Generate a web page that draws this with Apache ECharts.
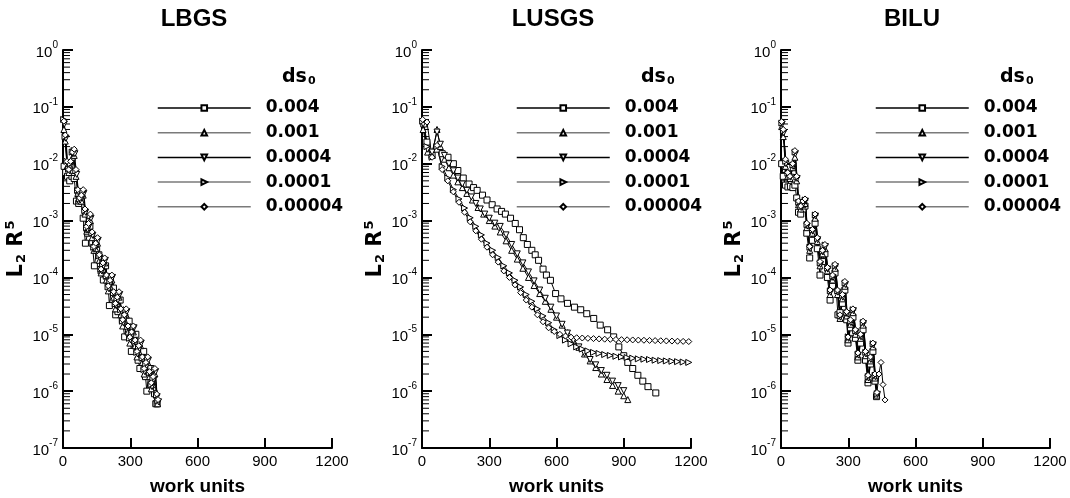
<!DOCTYPE html>
<html>
<head>
    <meta charset="utf-8">
    <title>LBGS / LUSGS / BILU</title>
    <script src="https://cdn.jsdelivr.net/npm/echarts@6/dist/echarts.min.js"></script>
    <style>
        html, body { margin: 0; padding: 0; background: #fff; }
        #chart1 { width: 1070px; height: 498px; }
    </style>
</head>
<body>
<div id="chart1"></div>
<script type="text/javascript">
    // legend names (ds0)
    var dsNames = ['0.004', '0.001', '0.0004', '0.0001', '0.00004'];
    var panelTitles = ['LBGS', 'LUSGS', 'BILU'];

    // ---------- LBGS : [work units, L2 R5] ----------
    var lbgsSquare = [[5, 9e-3], [12, 7e-3], [20, 6e-3], [30, 5e-3], [40, 6e-3], [50, 5.5e-3], [60, 2.2e-3], [70, 2e-3], [80, 2.3e-3], [90, 1.1e-3],
        [100, 4e-4], [110, 6e-4], [120, 8e-4], [130, 4e-4], [140, 1.6e-4], [150, 3e-4], [160, 2.5e-4], [170, 1.3e-4], [180, 9e-5], [190, 1.6e-4],
        [200, 9e-5], [207, 3.2e-5], [215, 6e-5], [225, 6.5e-5], [235, 2.2e-5], [245, 2.5e-5], [255, 4e-5], [265, 1.8e-5], [275, 9e-6], [285, 1.6e-5],
        [295, 1.7e-5], [305, 5e-6], [315, 8e-6], [325, 1e-5], [335, 3.5e-6], [343, 2.5e-6], [350, 4.5e-6], [360, 5e-6], [368, 1.8e-6], [374, 1e-6],
        [384, 2.2e-6], [392, 2.5e-6], [400, 1.3e-6], [408, 9e-7], [414, 6e-7], [420, 6e-7]];
    var lbgsTriUp = [[4, 4e-2], [10, 2.5e-2], [18, 9e-3], [26, 7e-3], [34, 9e-3], [42, 1.3e-2], [50, 1.4e-2], [58, 6e-3], [66, 3e-3], [74, 2.2e-3],
        [82, 2.2e-3], [90, 2.8e-3], [98, 1.3e-3], [106, 6.5e-4], [114, 7e-4], [122, 1e-3], [130, 5e-4], [138, 3e-4], [146, 3.2e-4], [154, 4e-4],
        [162, 2e-4], [170, 1.2e-4], [178, 1.4e-4], [186, 1.8e-4], [194, 9e-5], [202, 5.8e-5], [210, 7e-5], [218, 9e-5], [226, 4.5e-5], [234, 2.8e-5],
        [242, 3.5e-5], [250, 4.5e-5], [258, 2.2e-5], [266, 1.4e-5], [274, 1.8e-5], [282, 2.2e-5], [290, 1.1e-5], [298, 7e-6], [306, 9e-6], [314, 1.1e-5],
        [322, 6.3e-6], [330, 4e-6], [338, 5e-6], [346, 6.3e-6], [354, 3.2e-6], [362, 2e-6], [370, 2.5e-6], [378, 3.2e-6], [386, 1.8e-6], [394, 1.1e-6],
        [402, 1.4e-6], [410, 2e-6], [418, 7.5e-7], [422, 6e-7]];
    var lbgsTriDown = [[6, 5e-2], [13, 2.8e-2], [21, 1e-2], [29, 7.5e-3], [37, 1e-2], [45, 1.5e-2], [53, 1.5e-2], [61, 6.5e-3], [69, 3.2e-3], [77, 2.3e-3],
        [85, 2.5e-3], [93, 3e-3], [101, 1.4e-3], [109, 7e-4], [117, 8e-4], [125, 1.1e-3], [133, 5.5e-4], [141, 3.2e-4], [149, 3.6e-4], [157, 4.5e-4],
        [165, 2.2e-4], [173, 1.3e-4], [181, 1.6e-4], [189, 2e-4], [197, 1e-4], [205, 6.3e-5], [213, 8e-5], [221, 1e-4], [229, 5e-5], [237, 3.2e-5],
        [245, 4e-5], [253, 5e-5], [261, 2.5e-5], [269, 1.6e-5], [277, 2e-5], [285, 2.5e-5], [293, 1.3e-5], [301, 8e-6], [309, 1e-5], [317, 1.3e-5],
        [325, 7e-6], [333, 4.5e-6], [341, 5.6e-6], [349, 7e-6], [357, 3.6e-6], [365, 2.2e-6], [373, 2.8e-6], [381, 3.5e-6], [389, 2e-6], [397, 1.2e-6],
        [405, 1.6e-6], [413, 2.2e-6], [420, 8e-7], [426, 6.5e-7]];
    var lbgsTriRight = [[3, 6e-2], [9, 3e-2], [17, 1.1e-2], [25, 8e-3], [33, 1e-2], [41, 1.6e-2], [49, 1.7e-2], [57, 7.5e-3], [65, 3.4e-3], [73, 2.4e-3],
        [81, 2.6e-3], [89, 3.2e-3], [97, 1.5e-3], [105, 7.5e-4], [113, 8.5e-4], [121, 1.2e-3], [129, 6e-4], [137, 3.4e-4], [145, 3.8e-4], [153, 4.8e-4],
        [161, 2.4e-4], [169, 1.4e-4], [177, 1.7e-4], [185, 2.1e-4], [193, 1.05e-4], [201, 6.8e-5], [209, 8.5e-5], [217, 1.05e-4], [225, 5.3e-5], [233, 3.4e-5],
        [241, 4.3e-5], [249, 5.3e-5], [257, 2.7e-5], [265, 1.7e-5], [273, 2.1e-5], [281, 2.7e-5], [289, 1.35e-5], [297, 8.5e-6], [305, 1.05e-5], [313, 1.35e-5],
        [321, 7.5e-6], [329, 4.8e-6], [337, 6e-6], [345, 7.5e-6], [353, 3.8e-6], [361, 2.4e-6], [369, 3e-6], [377, 3.8e-6], [385, 2.1e-6], [393, 1.3e-6],
        [401, 1.7e-6], [409, 2.4e-6], [417, 8.5e-7], [423, 6.8e-7]];
    var lbgsDiamond = [[4, 5.6e-2], [10, 3.2e-2], [18, 1.1e-2], [26, 7.9e-3], [34, 1.1e-2], [42, 1.6e-2], [50, 1.8e-2], [58, 7.9e-3], [66, 3.5e-3], [74, 2.5e-3],
        [82, 2.8e-3], [90, 3.5e-3], [98, 1.6e-3], [106, 7.9e-4], [114, 8.9e-4], [122, 1.3e-3], [130, 6.3e-4], [138, 3.5e-4], [146, 4e-4], [154, 5e-4],
        [162, 2.5e-4], [170, 1.4e-4], [178, 1.8e-4], [186, 2.2e-4], [194, 1.1e-4], [202, 7.1e-5], [210, 8.9e-5], [218, 1.1e-4], [226, 5.6e-5], [234, 3.5e-5],
        [242, 4.5e-5], [250, 5.6e-5], [258, 2.8e-5], [266, 1.8e-5], [274, 2.2e-5], [282, 2.8e-5], [290, 1.4e-5], [298, 8.9e-6], [306, 1.1e-5], [314, 1.4e-5],
        [322, 7.9e-6], [330, 5e-6], [338, 6.3e-6], [346, 7.9e-6], [354, 4e-6], [362, 2.5e-6], [370, 3.2e-6], [378, 4e-6], [386, 2.2e-6], [394, 1.4e-6],
        [402, 1.8e-6], [410, 2.5e-6], [418, 8.9e-7], [424, 7.1e-7]];

    // ---------- LUSGS ----------
    var lusgsSquare = [[8, 5e-2], [22, 2.4e-2], [45, 1.4e-2], [67, 1.8e-2], [90, 1.5e-2], [116, 1.3e-2], [140, 1e-2], [160, 7.6e-3], [184, 5.6e-3], [210, 4.4e-3],
        [230, 3.8e-3], [246, 3.4e-3], [270, 2.8e-3], [290, 2.3e-3], [313, 1.9e-3], [335, 1.6e-3], [355, 1.45e-3], [372, 1.3e-3], [395, 1.1e-3], [416, 8.9e-4],
        [435, 6.9e-4], [452, 5e-4], [470, 3.8e-4], [490, 3e-4], [505, 2.5e-4], [520, 2e-4], [540, 1.4e-4], [555, 1.1e-4], [573, 8.9e-5], [596, 5.2e-5],
        [620, 4.2e-5], [649, 3.5e-5], [680, 3e-5], [708, 2.7e-5], [735, 2.3e-5], [766, 1.9e-5], [795, 1.45e-5], [828, 1.2e-5], [855, 9e-6], [878, 6e-6],
        [900, 4.2e-6], [918, 3.2e-6], [940, 2.5e-6], [963, 1.9e-6], [985, 1.5e-6], [1008, 1.2e-6], [1043, 9.3e-7]];
    var lusgsTriUp = [[5, 4e-2], [25, 1.6e-2], [45, 1.4e-2], [67, 4e-2], [82, 2e-2], [100, 1.2e-2], [120, 8.5e-3], [140, 6.3e-3], [160, 4.8e-3], [180, 3.8e-3],
        [200, 3e-3], [225, 2.3e-3], [250, 1.7e-3], [275, 1.3e-3], [300, 1e-3], [325, 8e-4], [349, 6.3e-4], [375, 4.4e-4], [400, 3e-4], [425, 2.1e-4],
        [450, 1.45e-4], [475, 1e-4], [500, 7.2e-5], [525, 5.2e-5], [550, 3.8e-5], [575, 2.75e-5], [600, 2e-5], [625, 1.45e-5], [650, 1.07e-5], [675, 7.9e-6],
        [700, 5.9e-6], [725, 4.5e-6], [750, 3.4e-6], [775, 2.6e-6], [800, 2e-6], [825, 1.6e-6], [850, 1.26e-6], [875, 1e-6], [900, 8.3e-7], [918, 7.1e-7]];
    var lusgsTriDown = [[5, 5e-2], [25, 1.8e-2], [45, 1.6e-2], [67, 3.6e-2], [82, 2.2e-2], [100, 1.4e-2], [120, 1e-2], [140, 7.5e-3], [160, 5.6e-3], [180, 4.4e-3],
        [200, 3.4e-3], [220, 2.6e-3], [240, 2e-3], [260, 1.6e-3], [280, 1.3e-3], [300, 1.1e-3], [325, 9e-4], [349, 7.9e-4], [375, 5.6e-4], [400, 3.8e-4],
        [425, 2.6e-4], [450, 1.8e-4], [475, 1.25e-4], [500, 8.7e-5], [525, 6e-5], [550, 4.3e-5], [575, 3e-5], [600, 2.1e-5], [625, 1.5e-5], [649, 1.05e-5],
        [675, 7.8e-6], [700, 6e-6], [725, 4.6e-6], [750, 3.6e-6], [775, 2.9e-6], [800, 2.3e-6], [825, 1.9e-6], [850, 1.5e-6], [875, 1.25e-6], [900, 1.02e-6]];
    var lusgsTriRight = [[3, 5.6e-2], [22, 2e-2], [45, 1.3e-2], [67, 2e-2], [90, 8.9e-3], [115, 5.6e-3], [140, 3.5e-3], [165, 2.4e-3], [190, 1.66e-3], [215, 1.12e-3],
        [240, 7.9e-4], [265, 5.6e-4], [290, 4e-4], [315, 3e-4], [340, 2.24e-4], [365, 1.6e-4], [390, 1.2e-4], [415, 8.9e-5], [440, 6.8e-5], [465, 5e-5],
        [490, 3.8e-5], [515, 2.8e-5], [540, 2.1e-5], [565, 1.6e-5], [590, 1.2e-5], [615, 9.5e-6], [640, 7.9e-6], [665, 6.8e-6], [690, 6e-6], [715, 5.5e-6],
        [740, 5.1e-6], [765, 4.8e-6], [790, 4.6e-6], [815, 4.4e-6], [840, 4.25e-6], [865, 4.1e-6], [890, 4e-6], [915, 3.9e-6], [940, 3.8e-6], [965, 3.7e-6],
        [990, 3.65e-6], [1015, 3.6e-6], [1040, 3.5e-6], [1065, 3.45e-6], [1090, 3.4e-6], [1115, 3.35e-6], [1140, 3.3e-6], [1165, 3.25e-6], [1190, 3.2e-6]];
    var lusgsDiamond = [[3, 6e-2], [22, 5.4e-2], [45, 1.3e-2], [67, 2.1e-2], [90, 7.9e-3], [115, 5e-3], [140, 3.2e-3], [165, 2.1e-3], [190, 1.4e-3], [215, 9.5e-4],
        [240, 6.6e-4], [265, 4.7e-4], [290, 3.4e-4], [315, 2.5e-4], [340, 1.86e-4], [365, 1.3e-4], [390, 1e-4], [415, 7.4e-5], [440, 5.4e-5], [465, 4e-5],
        [490, 3e-5], [515, 2.2e-5], [540, 1.66e-5], [565, 1.3e-5], [590, 1.12e-5], [615, 1e-5], [640, 9.3e-6], [665, 8.9e-6], [690, 8.7e-6], [715, 8.6e-6],
        [740, 8.5e-6], [765, 8.4e-6], [790, 8.3e-6], [815, 8.2e-6], [840, 8.15e-6], [865, 8.1e-6], [890, 8.05e-6], [915, 8e-6], [940, 7.95e-6], [965, 7.9e-6],
        [990, 7.85e-6], [1015, 7.8e-6], [1040, 7.75e-6], [1065, 7.7e-6], [1090, 7.65e-6], [1115, 7.6e-6], [1140, 7.55e-6], [1165, 7.5e-6], [1190, 7.45e-6]];

    // ---------- BILU ----------
    var biluSquare = [[3, 1e-2], [10, 6e-3], [20, 4.2e-3], [31, 3.9e-3], [42, 4e-3], [53, 3.8e-3], [62, 4.2e-3], [70, 2.5e-3], [78, 1.4e-3], [88, 1.3e-3],
        [98, 1.6e-3], [107, 1.8e-3], [115, 6e-4], [128, 2.2e-4], [140, 4.5e-4], [152, 9e-4], [162, 3.2e-4], [174, 1.1e-4], [185, 1.9e-4], [196, 2.6e-4],
        [207, 1e-4], [219, 4e-5], [230, 7e-5], [241, 1.2e-4], [254, 2.2e-5], [263, 2.4e-5], [274, 3.5e-5], [285, 6e-5], [293, 1.8e-5], [299, 7e-6],
        [310, 1.3e-5], [321, 2e-5], [332, 8.5e-6], [343, 3.5e-6], [355, 7e-6], [366, 1.2e-5], [377, 3.5e-6], [388, 1.4e-6], [399, 3e-6], [410, 5e-6],
        [419, 1.5e-6], [426, 8e-7]];
    var biluTriUp = [[3, 4.5e-2], [10, 3e-2], [20, 9e-3], [30, 6e-3], [40, 5.5e-3], [52, 8.5e-3], [62, 1.3e-2], [70, 5e-3], [78, 1.9e-3], [88, 1.6e-3],
        [98, 1.9e-3], [107, 2e-3], [115, 7.5e-4], [128, 3e-4], [140, 6e-4], [152, 1.1e-3], [162, 4.3e-4], [174, 1.6e-4], [185, 2.6e-4], [196, 3.2e-4],
        [207, 1.3e-4], [219, 5e-5], [230, 9e-5], [241, 1.45e-4], [252, 5e-5], [263, 1.9e-5], [274, 4.2e-5], [285, 7e-5], [293, 2.1e-5], [299, 8e-6],
        [310, 1.5e-5], [321, 2.4e-5], [332, 1e-5], [343, 4e-6], [355, 8.5e-6], [366, 1.45e-5], [377, 4.2e-6], [388, 1.6e-6], [399, 3.4e-6], [410, 6e-6],
        [419, 1.7e-6], [428, 8.5e-7]];
    var biluTriDown = [[5, 5e-2], [12, 3.5e-2], [22, 1e-2], [32, 6.5e-3], [42, 5.8e-3], [54, 9e-3], [64, 1.5e-2], [72, 5.5e-3], [80, 2e-3], [90, 1.7e-3],
        [100, 2e-3], [109, 2.2e-3], [117, 8e-4], [130, 3.2e-4], [142, 6.5e-4], [154, 1.2e-3], [164, 4.6e-4], [176, 1.7e-4], [187, 2.8e-4], [198, 3.5e-4],
        [209, 1.4e-4], [221, 5.5e-5], [232, 1e-4], [243, 1.55e-4], [254, 5.5e-5], [265, 2e-5], [276, 4.5e-5], [287, 7.5e-5], [295, 2.3e-5], [301, 8.5e-6],
        [312, 1.6e-5], [323, 2.6e-5], [334, 1.1e-5], [345, 4.3e-6], [357, 9e-6], [368, 1.55e-5], [379, 4.5e-6], [390, 1.7e-6], [401, 3.6e-6], [412, 6.5e-6],
        [421, 1.8e-6], [430, 8.8e-7]];
    var biluTriRight = [[4, 5.2e-2], [11, 3.8e-2], [21, 1.1e-2], [31, 6.8e-3], [41, 5.9e-3], [53, 9.5e-3], [63, 1.6e-2], [71, 5.8e-3], [79, 2.1e-3], [89, 1.75e-3],
        [99, 2.1e-3], [108, 2.3e-3], [116, 8.5e-4], [129, 3.4e-4], [141, 6.8e-4], [153, 1.25e-3], [163, 4.8e-4], [175, 1.8e-4], [186, 2.9e-4], [197, 3.7e-4],
        [208, 1.45e-4], [220, 5.8e-5], [231, 1.05e-4], [242, 1.6e-4], [253, 5.8e-5], [264, 2.1e-5], [275, 4.8e-5], [286, 8e-5], [294, 2.4e-5], [300, 9e-6],
        [311, 1.7e-5], [322, 2.7e-5], [333, 1.15e-5], [344, 4.5e-6], [356, 9.5e-6], [367, 1.6e-5], [378, 4.8e-6], [389, 1.8e-6], [400, 3.8e-6], [411, 6.8e-6],
        [420, 1.9e-6], [429, 9e-7]];
    var biluDiamond = [[3, 5.5e-2], [10, 4e-2], [20, 1.2e-2], [30, 7e-3], [40, 6e-3], [52, 1e-2], [62, 1.7e-2], [70, 6e-3], [78, 2.2e-3], [88, 1.8e-3],
        [98, 2.2e-3], [107, 2.4e-3], [115, 9e-4], [128, 3.5e-4], [140, 7e-4], [152, 1.3e-3], [162, 5e-4], [174, 1.9e-4], [185, 3e-4], [196, 3.8e-4],
        [207, 1.5e-4], [219, 6e-5], [230, 1.1e-4], [241, 1.7e-4], [252, 6e-5], [263, 2.2e-5], [274, 5e-5], [285, 8.5e-5], [293, 2.5e-5], [299, 9e-6],
        [310, 1.8e-5], [321, 2.8e-5], [332, 1.2e-5], [343, 4.7e-6], [355, 1e-5], [366, 1.7e-5], [377, 5e-6], [388, 1.9e-6], [399, 4e-6], [410, 7e-6],
        [419, 2e-6], [428, 9.5e-7], [437, 2e-6], [446, 3.2e-6], [455, 1.3e-6], [464, 7e-7]];

    var panels = [
        [lbgsSquare, lbgsTriUp, lbgsTriDown, lbgsTriRight, lbgsDiamond],
        [lusgsSquare, lusgsTriUp, lusgsTriDown, lusgsTriRight, lusgsDiamond],
        [biluSquare, biluTriUp, biluTriDown, biluTriRight, biluDiamond]
    ];

    // marker per ds0
    var markers = [
        {symbol: 'rect', rotate: 0},
        {symbol: 'triangle', rotate: 0},
        {symbol: 'triangle', rotate: 180},
        {symbol: 'triangle', rotate: -90},
        {symbol: 'diamond', rotate: 0}
    ];
    var legendLineColors = ['#000', '#7a7a7a', '#000', '#7a7a7a', '#7a7a7a'];

    var gridLefts = [63, 422, 781];
    var FONT = '"Liberation Sans", Arial, sans-serif';
    var WIDE = '"DejaVu Sans", sans-serif';

    // log minor ticks 2..9 x 10^k
    var minorVals = [];
    for (var k = -7; k < 0; k++) {
        for (var m = 2; m <= 9; m++) minorVals.push([0, m * Math.pow(10, k)]);
    }

    var grids = [], xAxes = [], yAxes = [], series = [], legends = [], graphics = [];

    gridLefts.forEach(function (left, p) {
        grids.push({left: left, top: 50, width: 269, height: 398, outerBoundsMode: 'none'});

        xAxes.push({
            gridIndex: p, type: 'value', min: 0, max: 1200, interval: 300,
            name: 'work units', nameLocation: 'middle', nameGap: 29,
            nameTextStyle: {fontFamily: FONT, fontSize: 19, fontWeight: 'bold', color: '#000'},
            axisLine: {lineStyle: {color: '#000', width: 2}},
            axisTick: {inside: true, length: 10, lineStyle: {color: '#000', width: 2}},
            axisLabel: {
                fontFamily: FONT, fontSize: 15, color: '#000', margin: 6,
                formatter: function (v) { return String(v); }
            },
            splitLine: {show: false}
        });

        yAxes.push({
            gridIndex: p, type: 'log', logBase: 10, min: 1e-7, max: 1, splitNumber: 7,
            name: '{m|L}{sub|2}{m| R}{sup|5}', nameLocation: 'middle', nameGap: 31, nameRotate: 90,
            nameTextStyle: {
                fontFamily: WIDE, color: '#000',
                rich: {
                    m: {fontFamily: WIDE, fontSize: 21, fontWeight: 'bold', color: '#000'},
                    sub: {fontFamily: WIDE, fontSize: 13, fontWeight: 'bold', color: '#000', padding: [11, 0, 0, 1]},
                    sup: {fontFamily: WIDE, fontSize: 13, fontWeight: 'bold', color: '#000', padding: [0, 0, 11, 1]}
                }
            },
            axisLine: {show: true, lineStyle: {color: '#000', width: 2}},
            axisTick: {inside: true, length: 10, lineStyle: {color: '#000', width: 2}},
            axisLabel: {
                margin: 5,
                formatter: function (v) {
                    return '{b|10}{s|' + Math.round(Math.log10(v)) + '}';
                },
                rich: {
                    b: {fontFamily: FONT, fontSize: 15, color: '#000', padding: [5, 0, 0, 0]},
                    s: {fontFamily: FONT, fontSize: 10, color: '#000', padding: [0, 0, 10, 0]}
                }
            },
            splitLine: {show: false}
        });

        panels[p].forEach(function (data, s) {
            series.push({
                name: dsNames[s], type: 'line', xAxisIndex: p, yAxisIndex: p,
                data: data,
                symbol: markers[s].symbol, symbolRotate: markers[s].rotate, symbolSize: 6,
                showSymbol: true, showAllSymbol: true,
                itemStyle: {color: '#fff', borderColor: '#000', borderWidth: 1},
                lineStyle: {color: '#000', width: 1},
                emphasis: {disabled: true},
                animation: false
            });
        });

        // minor log ticks
        series.push({
            type: 'custom', xAxisIndex: p, yAxisIndex: p, data: minorVals, silent: true, animation: false, clip: false,
            renderItem: function (params, api) {
                var pt = api.coord([0, api.value(1)]);
                return {type: 'line', shape: {x1: pt[0], y1: pt[1], x2: pt[0] + 7, y2: pt[1]}, style: {stroke: '#000', lineWidth: 1}};
            }
        });

        legends.push({
            orient: 'vertical', left: left + 89, top: 93,
            itemWidth: 93, itemHeight: 7, itemGap: 4.7,
            selectedMode: false, symbolRotate: 'inherit',
            data: dsNames.map(function (n, i) { return {name: n, lineStyle: {color: legendLineColors[i], width: 1.5}}; }),
            textStyle: {fontFamily: WIDE, fontSize: 17, fontWeight: 'bold', color: '#000', lineHeight: 20, padding: [0, 0, 0, 10]}
        });

        graphics.push({
            type: 'text', x: left + 131, y: 19,
            style: {text: panelTitles[p], font: 'bold 24px ' + FONT, fill: '#000', align: 'center', verticalAlign: 'middle'}
        });
        graphics.push({
            type: 'text', x: left + 219, y: 77,
            style: {
                text: '{d|ds}{z|0}', align: 'left', verticalAlign: 'middle',
                rich: {
                    d: {fontFamily: WIDE, fontSize: 19, fontWeight: 'bold', fill: '#000'},
                    z: {fontFamily: WIDE, fontSize: 11, fontWeight: 'bold', fill: '#000', padding: [9, 0, 0, 1]}
                }
            }
        });
    });

    var myChart = echarts.init(document.getElementById('chart1'), null, {renderer: 'canvas'});
    var option = {
        backgroundColor: '#fff',
        animation: false,
        grid: grids,
        xAxis: xAxes,
        yAxis: yAxes,
        legend: legends,
        graphic: graphics,
        series: series
    };
    myChart.setOption(option);
</script>
</body>
</html>
